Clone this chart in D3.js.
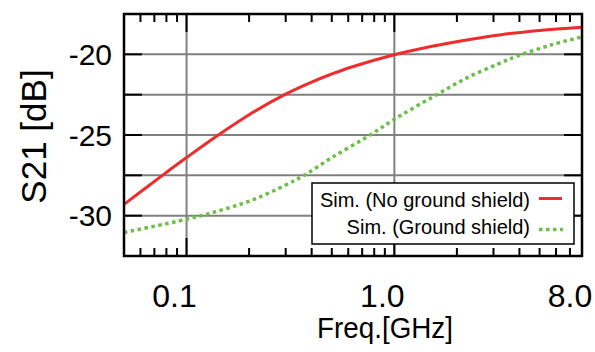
<!DOCTYPE html>
<html>
<head>
<meta charset="utf-8">
<script src="https://cdn.jsdelivr.net/npm/d3@7"></script>
<style>
  body { margin: 0; background: #fff; }
  text { font-family: "Liberation Sans", Arial, sans-serif; fill: #000; }
</style>
</head>
<body>
<div class="chart"></div>
<script>
// values
let freq_noShield = [0.05, 0.0766, 0.1, 0.141, 0.2, 0.295, 0.4, 0.5, 0.618, 1.0, 1.5, 2.02, 3.27, 5.0, 8.0];
let s21_noShield  = [-29.3, -27.5, -26.4, -25.03, -23.74, -22.51, -21.72, -21.22, -20.8, -20.03, -19.52, -19.2, -18.78, -18.52, -18.32];

let freq_shield = [0.05, 0.1, 0.15, 0.212, 0.3, 0.368, 0.5, 0.743, 1.02, 1.56, 2.25, 3.14, 3.92, 5.67, 8.0];
let s21_shield  = [-31.04, -30.22, -29.62, -28.98, -28.1, -27.5, -26.4, -25.1, -23.96, -22.58, -21.44, -20.61, -20.1, -19.42, -18.92];

let xMajor = [0.1, 1.0, 8.0];
let xMajorLabels = ["0.1", "1.0", "8.0"];
let xMinor = [0.06, 0.07, 0.08, 0.09, 0.2, 0.3, 0.4, 0.5, 0.6, 0.7, 0.8, 0.9, 2, 3, 4, 5, 6, 7];
let yTicks = [-32.5, -30, -27.5, -25, -22.5, -20, -17.5];
let yLabels = [-30, -25, -20];
let seriesNames = ["Sim. (No ground shield)", "Sim. (Ground shield)"];

let svg = d3.select(".chart")
  .append("svg")
  .attr("width", 595)
  .attr("height", 352);

let x = d3.scaleLog().domain([0.05, 8]).range([124, 582]);
let y = d3.scaleLinear().domain([-32.5, -17.5]).range([256, 14]);

// grid lines
svg.selectAll(".hgrid")
  .data(yTicks.slice(1, -1))
  .enter().append("line")
  .attr("x1", x(0.05)).attr("x2", x(8))
  .attr("y1", d => y(d)).attr("y2", d => y(d))
  .attr("stroke", "#808080")
  .attr("stroke-width", 2);

svg.selectAll(".vgrid")
  .data([0.1, 1.0])
  .enter().append("line")
  .attr("x1", d => x(d)).attr("x2", d => x(d))
  .attr("y1", y(-32.5)).attr("y2", y(-17.5))
  .attr("stroke", "#808080")
  .attr("stroke-width", 2);

// tick marks, inside, on all four sides
let tickG = svg.append("g").attr("stroke", "#000").attr("stroke-width", 2);

yTicks.forEach(function(d) {
  tickG.append("line").attr("x1", x(0.05)).attr("x2", x(0.05) + 18).attr("y1", y(d)).attr("y2", y(d));
  tickG.append("line").attr("x1", x(8) - 18).attr("x2", x(8)).attr("y1", y(d)).attr("y2", y(d));
});

[0.1, 1.0].forEach(function(d) {
  tickG.append("line").attr("x1", x(d)).attr("x2", x(d)).attr("y1", y(-32.5)).attr("y2", y(-32.5) - 18);
  tickG.append("line").attr("x1", x(d)).attr("x2", x(d)).attr("y1", y(-17.5)).attr("y2", y(-17.5) + 18);
});

xMinor.forEach(function(d) {
  tickG.append("line").attr("x1", x(d)).attr("x2", x(d)).attr("y1", y(-32.5)).attr("y2", y(-32.5) - 8);
  tickG.append("line").attr("x1", x(d)).attr("x2", x(d)).attr("y1", y(-17.5)).attr("y2", y(-17.5) + 8);
});

// curves
let line = d3.line()
  .x(d => x(d[0]))
  .y(d => y(d[1]))
  .curve(d3.curveCatmullRom.alpha(0.5));

svg.append("path")
  .datum(d3.zip(freq_noShield, s21_noShield))
  .attr("d", line)
  .attr("fill", "none")
  .attr("stroke", "#ee2c2c")
  .attr("stroke-width", 3);

svg.append("path")
  .datum(d3.zip(freq_shield, s21_shield))
  .attr("d", line)
  .attr("fill", "none")
  .attr("stroke", "#6cbf45")
  .attr("stroke-width", 3.5)
  .attr("stroke-dasharray", "3.5,3.5");

// frame
svg.append("rect")
  .attr("x", x(0.05)).attr("y", y(-17.5))
  .attr("width", x(8) - x(0.05))
  .attr("height", y(-32.5) - y(-17.5))
  .attr("fill", "none")
  .attr("stroke", "#000")
  .attr("stroke-width", 2.5);

// tick labels
svg.selectAll(".ylab")
  .data(yLabels)
  .enter().append("text")
  .attr("x", 112)
  .attr("y", d => y(d))
  .attr("dy", "0.36em")
  .attr("text-anchor", "end")
  .attr("font-size", 30)
  .text(d => d);

svg.selectAll(".xlab")
  .data(xMajor)
  .enter().append("text")
  .attr("x", d => x(d) - 12)
  .attr("y", 307)
  .attr("text-anchor", "middle")
  .attr("font-size", 32)
  .text((d, i) => xMajorLabels[i]);

// axis titles
svg.append("text")
  .attr("x", 385)
  .attr("y", 338)
  .attr("text-anchor", "middle")
  .attr("font-size", 30)
  .attr("textLength", 136)
  .attr("lengthAdjust", "spacingAndGlyphs")
  .text("Freq.[GHz]");

svg.append("text")
  .attr("transform", "translate(46,136.5) rotate(-90)")
  .attr("text-anchor", "middle")
  .attr("font-size", 35)
  .text("S21 [dB]");

// legend
let legend = svg.append("g");
legend.append("rect")
  .attr("x", 312).attr("y", 183)
  .attr("width", 262).attr("height", 61)
  .attr("fill", "#fff")
  .attr("stroke", "#000")
  .attr("stroke-width", 1.5);

legend.append("text")
  .attr("x", 530).attr("y", 206.5)
  .attr("text-anchor", "end")
  .attr("font-size", 20)
  .text(seriesNames[0]);

legend.append("text")
  .attr("x", 530).attr("y", 234)
  .attr("text-anchor", "end")
  .attr("font-size", 20)
  .text(seriesNames[1]);

legend.append("line")
  .attr("x1", 539).attr("x2", 562)
  .attr("y1", 198.5).attr("y2", 198.5)
  .attr("stroke", "#ee2c2c")
  .attr("stroke-width", 3);

legend.append("line")
  .attr("x1", 539).attr("x2", 563)
  .attr("y1", 229.5).attr("y2", 229.5)
  .attr("stroke", "#6cbf45")
  .attr("stroke-width", 3.5)
  .attr("stroke-dasharray", "3.5,3.5");
</script>
</body>
</html>
